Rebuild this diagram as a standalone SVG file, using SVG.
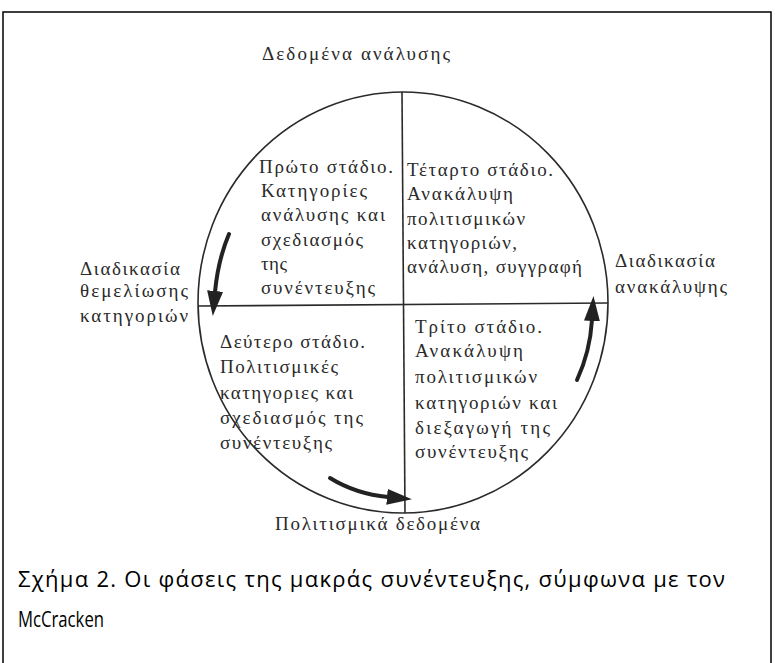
<svg xmlns="http://www.w3.org/2000/svg" width="775" height="663" viewBox="0 0 775 663">
<style>
  .d { font-family: "Liberation Serif", "DejaVu Serif", serif; font-size: 19px; fill: #2a2a2a; }
  .cap { font-family: "Open Sans", "Liberation Sans", sans-serif; font-size: 22px; fill: #000; }
  .ln { stroke: #2a2a2a; stroke-width: 1.6; fill: none; }
  .arr { stroke: #222; stroke-width: 4; fill: none; stroke-linecap: round; }
</style>
<defs>
  <marker id="head" markerUnits="userSpaceOnUse" markerWidth="25" markerHeight="16" viewBox="0 0 25 16" refX="1" refY="8" orient="auto">
    <path d="M0,0 L25,8 L0,16 z" fill="#222"/>
  </marker>
</defs>
<rect x="0" y="0" width="775" height="663" fill="#fff"/>
<rect x="3" y="12" width="768" height="670" fill="none" stroke="#000" stroke-width="1.5"/>

<g id="frame">
  <ellipse class="ln" cx="403" cy="302.5" rx="205" ry="210.5" stroke-width="2"/>
  <line class="ln" x1="402" y1="92" x2="405" y2="513"/>
  <line class="ln" x1="198" y1="306" x2="608" y2="303"/>
</g>

<g id="connectors">
  <path class="arr" d="M229,234 Q218,260 215,292" marker-end="url(#head)"/>
  <path class="arr" d="M577,380 Q590,352 592,320" marker-end="url(#head)"/>
  <path class="arr" d="M330,478 Q356,494 388,497" marker-end="url(#head)"/>
</g>

<g id="label-top">
  <text class="d" x="262" y="60" textLength="188" lengthAdjust="spacing">Δεδομένα ανάλυσης</text>
</g>
<g id="label-bottom">
  <text class="d" x="275" y="530" textLength="205" lengthAdjust="spacing">Πολιτισμικά δεδομένα</text>
</g>
<g id="label-left">
  <text class="d" x="80" y="275" textLength="100" lengthAdjust="spacing">Διαδικασία</text>
  <text class="d" x="80" y="297" textLength="108" lengthAdjust="spacing">θεμελίωσης</text>
  <text class="d" x="80" y="322" textLength="108" lengthAdjust="spacing">κατηγοριών</text>
</g>
<g id="label-right">
  <text class="d" x="615" y="267" textLength="100" lengthAdjust="spacing">Διαδικασία</text>
  <text class="d" x="615" y="293" textLength="112" lengthAdjust="spacing">ανακάλυψης</text>
</g>

<g id="stage1">
  <text class="d" x="259" y="173" textLength="134" lengthAdjust="spacing">Πρώτο στάδιο.</text>
  <text class="d" x="261" y="197" textLength="106" lengthAdjust="spacing">Κατηγορίες</text>
  <text class="d" x="261" y="221" textLength="124" lengthAdjust="spacing">ανάλυσης και</text>
  <text class="d" x="261" y="246" textLength="102" lengthAdjust="spacing">σχεδιασμός</text>
  <text class="d" x="261" y="270" textLength="26" lengthAdjust="spacing">της</text>
  <text class="d" x="261" y="294" textLength="114" lengthAdjust="spacing">συνέντευξης</text>
</g>

<g id="stage4">
  <text class="d" x="407" y="176" textLength="146" lengthAdjust="spacing">Τέταρτο στάδιο.</text>
  <text class="d" x="407" y="200" textLength="106" lengthAdjust="spacing">Ανακάλυψη</text>
  <text class="d" x="407" y="225" textLength="118" lengthAdjust="spacing">πολιτισμικών</text>
  <text class="d" x="407" y="249" textLength="110" lengthAdjust="spacing">κατηγοριών,</text>
  <text class="d" x="407" y="273" textLength="175" lengthAdjust="spacing">ανάλυση, συγγραφή</text>
</g>

<g id="stage2">
  <text class="d" x="220" y="348" textLength="145" lengthAdjust="spacing">Δεύτερο στάδιο.</text>
  <text class="d" x="220" y="373" textLength="118" lengthAdjust="spacing">Πολιτισμικές</text>
  <text class="d" x="220" y="399" textLength="133" lengthAdjust="spacing">κατηγοριες και</text>
  <text class="d" x="220" y="424" textLength="143" lengthAdjust="spacing">σχεδιασμός της</text>
  <text class="d" x="220" y="449" textLength="112" lengthAdjust="spacing">συνέντευξης</text>
</g>

<g id="stage3">
  <text class="d" x="415" y="333" textLength="127" lengthAdjust="spacing">Τρίτο στάδιο.</text>
  <text class="d" x="415" y="357" textLength="108" lengthAdjust="spacing">Ανακάλυψη</text>
  <text class="d" x="415" y="383" textLength="122" lengthAdjust="spacing">πολιτισμικών</text>
  <text class="d" x="415" y="409" textLength="142" lengthAdjust="spacing">κατηγοριών και</text>
  <text class="d" x="415" y="434" textLength="135" lengthAdjust="spacing">διεξαγωγή της</text>
  <text class="d" x="415" y="458" textLength="113" lengthAdjust="spacing">συνέντευξης</text>
</g>

<g id="caption">
  <text class="cap" x="18" y="587" textLength="707" lengthAdjust="spacing">Σχήμα 2. Οι φάσεις της μακράς συνέντευξης, σύμφωνα με τον</text>
  <text class="cap" x="18" y="627" textLength="86" lengthAdjust="spacingAndGlyphs">McCracken</text>
</g>
</svg>
